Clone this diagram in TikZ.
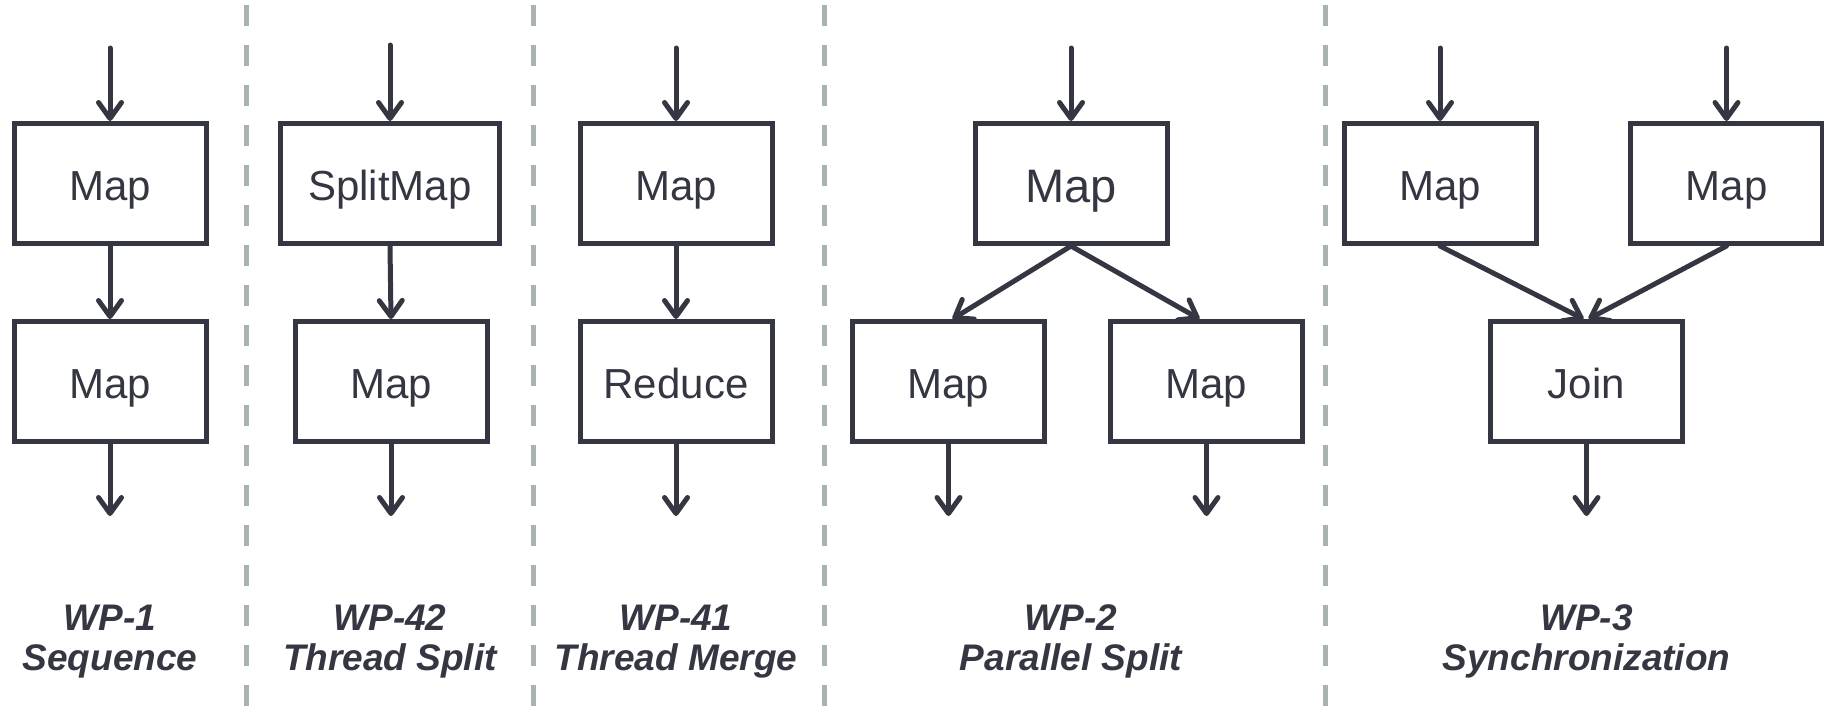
\documentclass[tikz,border=0pt]{standalone}
\usepackage{fontspec}
\setmainfont{Liberation Sans}
\usetikzlibrary{arrows.meta}
\definecolor{ink}{HTML}{343641}
\definecolor{divider}{HTML}{A8B3AD}
\begin{document}
\begin{tikzpicture}[x=1pt,y=-1pt,
  box/.style={draw=ink, line width=5pt, rectangle, minimum width=192pt, minimum height=120pt,
    inner sep=0pt, text=ink, text height=34pt, text depth=0pt,
    font=\fontsize{42}{50}\selectfont},
  bigbox/.style={box, text height=37pt, font=\fontsize{47}{55}\selectfont},
  wide/.style={box, minimum width=219pt},
  flow/.style={draw=ink, line width=5pt, line cap=round,
    -{Straight Barb[length=16pt,width=23pt,round]}},
  sep/.style={draw=divider, line width=5pt, dash pattern=on 21pt off 19pt, dash phase=35pt},
  caption/.style={text=ink, align=center, font=\fontsize{37}{40}\selectfont\bfseries\itshape}
]
\useasboundingbox (0,0) rectangle (1824,716);

% column dividers
\foreach \x in {246,533,824,1325}
  \draw[sep] (\x,0) -- (\x,716);

% WP-1 Sequence
\node[box] (s1) at (110,183.5) {Map};
\node[box] (s2) at (110,381.5) {Map};
\coordinate (sIn) at (110,48);
\coordinate (sOut) at (110,516);
\draw[flow] (sIn) -- (s1);
\draw[flow] (s1) -- (s2);
\draw[flow] (s2) -- (sOut);

% WP-42 Thread Split
\node[wide] (t1) at (390,183.5) {SplitMap};
\node[box] (t2) at (391,381.5) {Map};
\coordinate (tIn) at (390,45);
\coordinate (tOut) at (391,516);
\draw[flow] (tIn) -- (t1);
\draw[flow] (t1.south) -- (t2.north);
\draw[flow] (t2) -- (tOut);

% WP-41 Thread Merge
\node[box] (m1) at (676,183.5) {Map};
\node[box] (m2) at (676,381.5) {Reduce};
\coordinate (mIn) at (676,48);
\coordinate (mOut) at (676,516);
\draw[flow] (mIn) -- (m1);
\draw[flow] (m1) -- (m2);
\draw[flow] (m2) -- (mOut);

% WP-2 Parallel Split
\node[bigbox] (p1) at (1071,183.5) {Map};
\node[box] (p2) at (948.5,381.5) {Map};
\node[box] (p3) at (1206.5,381.5) {Map};
\coordinate (pIn) at (1071,48);
\coordinate (pOutA) at (948.5,516);
\coordinate (pOutB) at (1206.5,516);
\draw[flow] (pIn) -- (p1);
\draw[flow] (p1.south) -- ([xshift=4pt]p2.north);
\draw[flow] (p1.south) -- ([xshift=-7pt]p3.north);
\draw[flow] (p2) -- (pOutA);
\draw[flow] (p3) -- (pOutB);

% WP-3 Synchronization
\node[box] (j1) at (1440,183.5) {Map};
\node[box] (j2) at (1726.5,183.5) {Map};
\node[box] (j3) at (1586.5,381.5) {Join};
\coordinate (jInA) at (1440,48);
\coordinate (jInB) at (1726.5,48);
\coordinate (jOut) at (1586.5,516);
\draw[flow] (jInA) -- (j1);
\draw[flow] (jInB) -- (j2);
\draw[flow] (j1.south) -- ([xshift=-3pt]j3.north);
\draw[flow] (j2.south) -- ([xshift=2pt]j3.north);
\draw[flow] (j3) -- (jOut);

% pattern captions (base anchor sits on the last line)
\node[caption, anchor=base] (c1) at (110,670) {WP-1\\Sequence};
\node[caption, anchor=base] (c2) at (390,670) {WP-42\\Thread Split};
\node[caption, anchor=base] (c3) at (676,670) {WP-41\\Thread Merge};
\node[caption, anchor=base] (c4) at (1071,670) {WP-2\\Parallel Split};
\node[caption, anchor=base] (c5) at (1586.5,670) {WP-3\\Synchronization};
\end{tikzpicture}
\end{document}
